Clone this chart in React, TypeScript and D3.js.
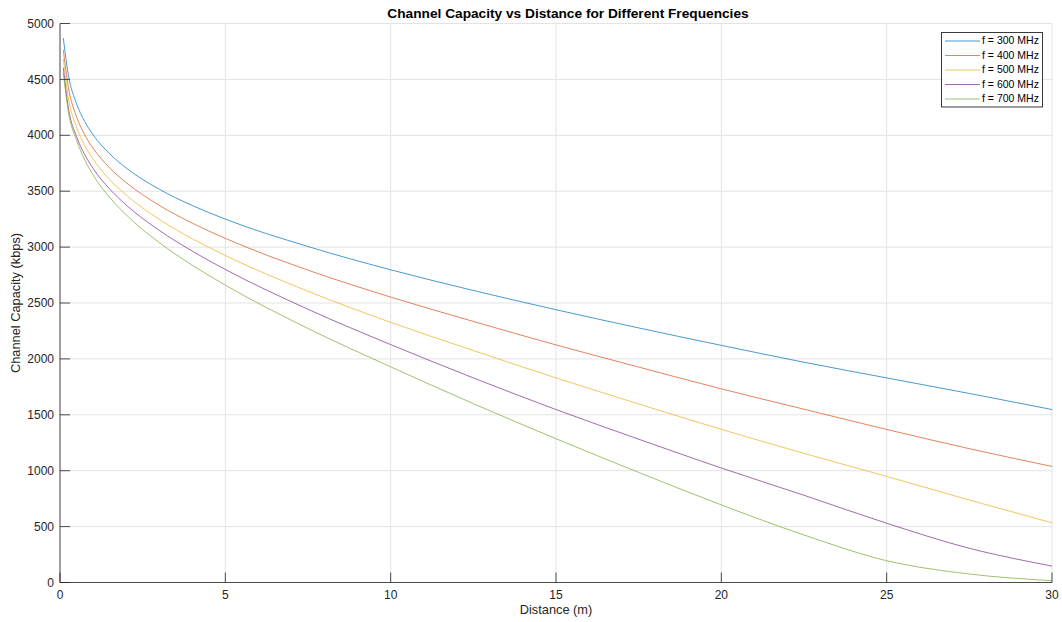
import React from "react";
import * as d3 from "d3";

const distances = [0.1, 0.25, 0.5, 0.75, 1, 1.5, 2, 3, 4, 5, 7.5, 10, 12.5, 15, 17.5, 20, 22.5, 25, 27.5, 30];
const cap300 = [4870, 4545, 4283, 4122, 4005, 3835, 3708, 3518, 3372, 3250, 3005, 2797, 2612, 2440, 2277, 2121, 1970, 1830, 1691, 1547];
const cap400 = [4765, 4435, 4167, 4004, 3885, 3709, 3577, 3374, 3214, 3078, 2794, 2553, 2335, 2125, 1927, 1732, 1550, 1369, 1197, 1038];
const cap500 = [4683, 4340, 4073, 3909, 3787, 3605, 3466, 3249, 3075, 2925, 2605, 2327, 2075, 1830, 1597, 1370, 1155, 949, 738, 534];
const cap600 = [4605, 4251, 3989, 3826, 3704, 3520, 3377, 3150, 2964, 2800, 2444, 2128, 1830, 1547, 1282, 1024, 780, 530, 306, 147];
const cap700 = [4560, 4215, 3957, 3779, 3646, 3445, 3289, 3041, 2838, 2660, 2272, 1929, 1600, 1286, 985, 694, 425, 195, 76, 16];

const seriesLabels = ["f = 300 MHz", "f = 400 MHz", "f = 500 MHz", "f = 600 MHz", "f = 700 MHz"];
const seriesValues = [cap300, cap400, cap500, cap600, cap700];
const seriesColors = ["#0072BD", "#D95319", "#EDB120", "#7E2F8E", "#77AC30"];

const xTicks = [0, 5, 10, 15, 20, 25, 30];
const yTicks = [0, 500, 1000, 1500, 2000, 2500, 3000, 3500, 4000, 4500, 5000];

const titleText = "Channel Capacity vs Distance for Different Frequencies";
const xLabel = "Distance (m)";
const yLabel = "Channel Capacity (kbps)";

export default function App() {
  const W = 1062, H = 622;
  const left = 60, right = 1052, top = 23.5, bottom = 582.5;
  const x = d3.scaleLinear().domain([0, 30]).range([left, right]);
  const y = d3.scaleLinear().domain([0, 5000]).range([bottom, top]);
  const line = d3
    .line<number>()
    .x((_, i) => x(distances[i]))
    .y((v) => y(v))
    .curve(d3.curveMonotoneX);
  const font = "'Liberation Sans', Arial, Helvetica, sans-serif";
  const textColor = "#262626";
  const gridColor = "#e3e3e3";
  const tickLen = 10;

  const legX = 941.5, legY = 32.5, legW = 101, legH = 74.5;
  const rowH = 14.5;

  return (
    <svg
      width={W}
      height={H}
      style={{ position: "absolute", left: 0, top: 0, display: "block", background: "#fff" }}
      fontFamily={font}
    >
      <rect x={0} y={0} width={W} height={H} fill="#fff" />
      {xTicks.map((t) => (
        <line key={"gx" + t} x1={x(t)} x2={x(t)} y1={top} y2={bottom} stroke={gridColor} strokeWidth={1} />
      ))}
      {yTicks.map((t) => (
        <line key={"gy" + t} x1={left} x2={right} y1={y(t)} y2={y(t)} stroke={gridColor} strokeWidth={1} />
      ))}
      {seriesValues.map((vals, i) => (
        <path key={"s" + i} d={line(vals) || ""} fill="none" stroke={seriesColors[i]} strokeWidth={0.9} opacity={0.8} />
      ))}
      <line x1={left} x2={right} y1={bottom} y2={bottom} stroke={textColor} strokeWidth={1} opacity={0.8} />
      <line x1={left} x2={left} y1={top} y2={bottom} stroke={textColor} strokeWidth={1} opacity={0.8} />
      {xTicks.map((t) => (
        <g key={"xt" + t}>
          <line x1={x(t)} x2={x(t)} y1={bottom} y2={bottom - tickLen} stroke={textColor} strokeWidth={1} opacity={0.8} />
          <text x={x(t)} y={bottom + 13} textAnchor="middle" dominantBaseline="middle" fontSize={12} fill={textColor}>
            {t}
          </text>
        </g>
      ))}
      {yTicks.map((t) => (
        <g key={"yt" + t}>
          <line x1={left} x2={left + tickLen} y1={y(t)} y2={y(t)} stroke={textColor} strokeWidth={1} opacity={0.8} />
          <text x={left - 6} y={y(t) + 1} textAnchor="end" dominantBaseline="middle" fontSize={12} fill={textColor}>
            {t}
          </text>
        </g>
      ))}
      <text x={(left + right) / 2 + 12} y={14} textAnchor="middle" dominantBaseline="middle" fontSize={13.7} fontWeight="bold" fill="#000">
        {titleText}
      </text>
      <text x={(left + right) / 2} y={611} textAnchor="middle" dominantBaseline="middle" fontSize={12.8} fill={textColor}>
        {xLabel}
      </text>
      <text
        transform={`translate(17,${(top + bottom) / 2}) rotate(-90)`}
        textAnchor="middle"
        dominantBaseline="middle"
        fontSize={12.8}
        fill={textColor}
      >
        {yLabel}
      </text>
      <rect x={legX} y={legY} width={legW} height={legH} fill="#fff" stroke={textColor} strokeWidth={1} opacity={0.9} />
      {seriesLabels.map((lab, i) => {
        const ry = legY + 8.5 + i * rowH;
        return (
          <g key={"lg" + i}>
            <line x1={legX + 3.5} x2={legX + 38.5} y1={ry} y2={ry} stroke={seriesColors[i]} strokeWidth={0.9} opacity={0.8} />
            <text x={legX + 40.5} y={ry + 0.5} dominantBaseline="middle" fontSize={10.5} fill="#000">
              {lab}
            </text>
          </g>
        );
      })}
    </svg>
  );
}
